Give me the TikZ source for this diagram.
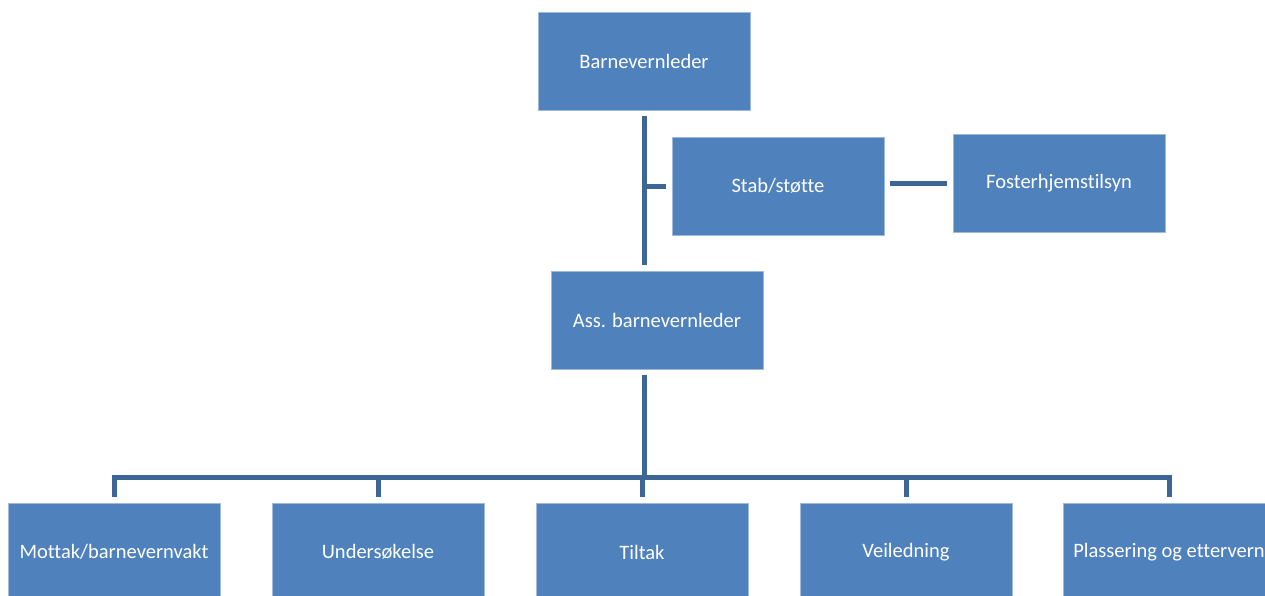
\documentclass[tikz,border=0pt]{standalone}
\usepackage{fontspec}
\setmainfont[Ligatures=NoCommon]{Carlito}
\usetikzlibrary{positioning,calc}
\definecolor{boxblue}{HTML}{4F81BD}
\definecolor{lineblue}{HTML}{3D6596}

\begin{document}
\begin{tikzpicture}[x=1pt,y=-1pt,
  unit/.style={rectangle, fill=boxblue, draw=boxblue!55!white, line width=0.8pt,
    minimum width=212pt, minimum height=98pt, inner sep=0pt, text=white,
    font=\fontsize{20.5}{24}\selectfont},
  link/.style={draw=lineblue, line width=5pt}]
\useasboundingbox (0,0) rectangle (1265,595);
\clip (0,0) rectangle (1265,595);

\node[unit,name=leder] at (644,61) {Barnevernleder};
\node[unit,name=stab] at (778,186) {Stab/støtte};
\node[unit,name=foster] at (1059,183) {Fosterhjemstilsyn};
\node[unit,name=ass] at (657,320) {Ass. barnevernleder};

\node[unit,name=mottak] at (114,552) {Mottak/barnevernvakt};
\node[unit,name=unders] at (378,552) {Undersøkelse};
\node[unit,name=tiltak] at (642,552) {Tiltak};
\node[unit,name=veiled] at (906,552) {Veiledning};
\node[unit,name=plass] at (1169,552) {Plassering og ettervern};

% y runs downwards, yshift stays upwards
\draw[link] ([yshift=-6pt]leder.south) -- ([yshift=6pt]leder.south |- ass.north);
\draw[link] (leder.south |- stab.west) -- ([xshift=-6pt]stab.west);
\draw[link] ([xshift=6pt]stab.east |- foster.west) -- ([xshift=-6pt]foster.west);

\foreach \n in {mottak,unders,tiltak,veiled,plass}
  \draw[link] ([yshift=-6pt]leder.south |- ass.south) |- ([yshift=25pt]\n.north) -- ([yshift=6pt]\n.north);
\end{tikzpicture}
\end{document}
